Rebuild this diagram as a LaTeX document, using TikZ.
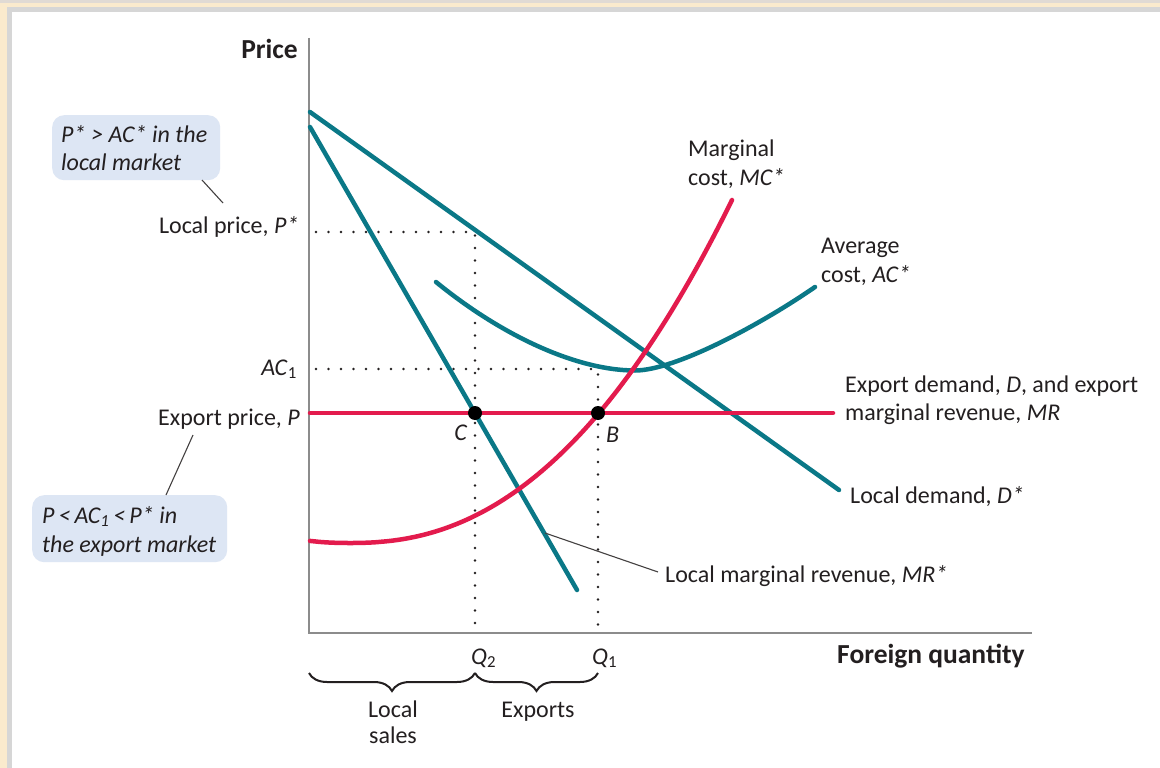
\documentclass[tikz,border=0pt]{standalone}
\usepackage{fontspec}
\setmainfont{Carlito}
\usetikzlibrary{decorations.pathreplacing}
\definecolor{ecoteal}{RGB}{10,120,135}
\definecolor{ecored}{RGB}{227,27,77}
\definecolor{boxblue}{RGB}{221,230,244}
\definecolor{ink}{RGB}{35,31,32}
\definecolor{axisgray}{RGB}{140,140,140}
\definecolor{framebeige}{RGB}{250,234,205}
\definecolor{frametop}{RGB}{224,218,212}
\definecolor{framegray}{RGB}{214,214,214}
\newcommand{\st}{\kern0.3pt*}
\begin{document}
\begin{tikzpicture}[x=1pt,y=-1pt,
  lbl/.style={inner sep=0pt, text=ink, font=\fontsize{24}{28}\selectfont},
  lblb/.style={inner sep=0pt, text=ink, font=\fontsize{27.5}{30}\selectfont\bfseries},
  curveT/.style={draw=ecoteal, line width=4.5pt, line cap=round},
  curveR/.style={draw=ecored, line width=4.5pt, line cap=round},
  dotline/.style={draw=ink, line width=2.8pt, line cap=round, dash pattern=on 0pt off 12.5pt},
  axisline/.style={draw=axisgray, line width=2pt},
  leader/.style={draw=ink!85, line width=1.1pt},
  callout/.style={fill=boxblue, rounded corners=12pt, inner sep=0pt, anchor=north west},
  eqdot/.style={circle, fill=black, minimum size=14pt, inner sep=0pt},
  bracestyle/.style={draw=ink, line width=2pt, decorate, decoration={brace, amplitude=18pt}}
]
\useasboundingbox (0,0) rectangle (1160,768);
% frame
\fill[framebeige] (0,0) rectangle (1160,768);
\fill[frametop] (0,0) rectangle (1160,3);
\fill[framegray] (7,7) rectangle (1160,768);
\fill[white] (12,12) rectangle (1160,768);

% axes
\coordinate (Ytop) at (309,38);
\coordinate (O) at (309,633);
\coordinate (Xend) at (1032,633);
\draw[axisline] (Ytop) -- (O) -- (Xend);

% dotted guides
\coordinate (Ps) at (316,232);
\coordinate (Q2top) at (475,232);
\coordinate (Q2bot) at (475,631);
\coordinate (ACs) at (316,369);
\coordinate (Q1top) at (598,369);
\coordinate (Q1bot) at (598,631);
\draw[dotline] (Ps) -- (Q2top) -- (Q2bot);
\draw[dotline] (ACs) -- (Q1top) -- (Q1bot);

% teal curves
\coordinate (Dstart) at (310,112);
\coordinate (Dend) at (839,490);
\draw[curveT] (Dstart) -- (Dend);
\coordinate (MRstart) at (310,127);
\coordinate (MRend) at (577,590);
\draw[curveT] (MRstart) -- (MRend);
\coordinate (ACa) at (436,282);
\coordinate (ACmin) at (635,370.5);
\coordinate (ACb) at (815,287);
\draw[curveT] (ACa) .. controls (506,339) and (580,370.5) .. (ACmin)
                    .. controls (675,370.5) and (760,325) .. (ACb);

% red curves
\coordinate (Pstart) at (310,413);
\coordinate (Pend) at (833,413);
\draw[curveR] (Pstart) -- (Pend);
\draw[curveR] plot[domain=310:732, samples=90, smooth] (\x, {543-130*exp(2.267*ln(abs(\x-350)/249+0.0001))});

% equilibrium dots
\node[eqdot] (C) at (475,413) {};
\node[eqdot] (B) at (598,413) {};
\node[lbl, anchor=base east] (Clbl) at (467,440) {\itshape C};
\node[lbl, anchor=base west] (Blbl) at (606,442) {\itshape B};

% axis labels
\node[lblb, anchor=base east] (price) at (298,59) {Price};
\node[lblb, anchor=base west] (fq) at (837,663) {Foreign quantity};
\node[lbl, anchor=base east] (lp) at (299,233) {Local price, \textit{P\st}};
\node[lbl, anchor=base east] (ac1) at (297,375) {\textit{AC}\textsubscript{1}};
\node[lbl, anchor=base east] (ep) at (300,425) {Export price, \textit{P}};
\node[lbl, anchor=base west] (q2) at (471,664) {\textit{Q}\textsubscript{2}};
\node[lbl, anchor=base west] (q1) at (592,664) {\textit{Q}\textsubscript{1}};

% curve labels
\node[lbl, anchor=base west] (mc1) at (688,156) {Marginal};
\node[lbl, anchor=base west] (mc2) at (688,185) {cost, \textit{MC\st}};
\node[lbl, anchor=base west] (av1) at (821,253) {Average};
\node[lbl, anchor=base west] (av2) at (821,282) {cost, \textit{AC\st}};
\node[lbl, anchor=base west] (ed1) at (845,392) {Export demand, \textit{D}, and export};
\node[lbl, anchor=base west] (ed2) at (845,420) {marginal revenue, \textit{MR}};
\node[lbl, anchor=base west] (ld) at (850,503) {Local demand, \textit{D\st}};
\node[lbl, anchor=base west] (lmr) at (665,582) {Local marginal revenue, \textit{MR\st}};
\coordinate (lmrA) at (545,533);
\coordinate (lmrB) at (658,572);
\draw[leader] (lmrA) -- (lmrB);

% callout boxes
\node[callout, minimum width=168pt, minimum height=65pt] (box1) at (52,115) {};
\node[lbl, anchor=base west] (b1a) at (61,142) {\itshape P\st\ > AC\st\ in the};
\node[lbl, anchor=base west] (b1b) at (61,170) {\itshape local market};
\coordinate (L1a) at (202,180);
\coordinate (L1b) at (223,203);
\draw[leader] (L1a) -- (L1b);

\node[callout, minimum width=195pt, minimum height=67pt] (box2) at (32,495) {};
\node[lbl, anchor=base west] (b2a) at (42,523) {\itshape P\,<\,AC\textsubscript{1}\,<\,P\st\ in};
\node[lbl, anchor=base west] (b2b) at (42,552) {\itshape the export market};
\coordinate (L2a) at (166,495);
\coordinate (L2b) at (193,435);
\draw[leader] (L2a) -- (L2b);

% braces
\coordinate (BrL) at (309,673);
\coordinate (BrM) at (475,673);
\coordinate (BrR) at (598,673);
\draw[bracestyle] (BrM) -- (BrL);
\draw[bracestyle] (BrR) -- (BrM);
\node[lbl, anchor=base] (ls1) at (393,717) {Local};
\node[lbl, anchor=base] (ls2) at (393,743) {sales};
\node[lbl, anchor=base] (ex) at (538,717) {Exports};
\end{tikzpicture}
\end{document}
